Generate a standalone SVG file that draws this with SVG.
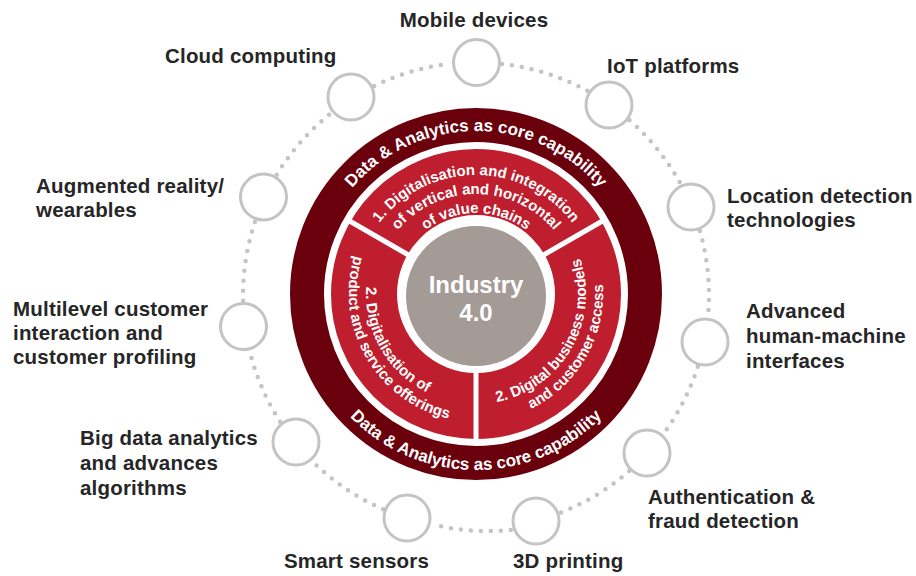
<svg xmlns="http://www.w3.org/2000/svg" width="916" height="576" viewBox="0 0 916 576">
<style>
.lbl{font-family:"Liberation Sans",Arial,sans-serif;font-weight:bold;font-size:20.5px;letter-spacing:0.2px;fill:#262626}
.ring{font-family:"Liberation Sans",Arial,sans-serif;font-weight:bold;font-size:17px;fill:#fff}
.sec{font-family:"Liberation Sans",Arial,sans-serif;font-weight:bold;font-size:15px;fill:#fff}
.ctr{font-family:"Liberation Sans",Arial,sans-serif;font-weight:bold;font-size:24px;fill:#fff}
.node{fill:#fff;stroke:#c4c4c4;stroke-width:3}
.dots{fill:none;stroke:#c4c4c4;stroke-width:4.5;stroke-linecap:round;stroke-dasharray:0 10}
</style>
<defs>
<path id="pTopRing" d="M 313 294 A 163 163 0 0 1 639 294"/>
<path id="pBotRing" d="M 300 294 A 176 176 0 0 0 652 294"/>
<path id="pT1" d="M 355 296 A 121 121 0 0 1 597 296"/>
<path id="pT2" d="M 374 296 A 102 102 0 0 1 578 296"/>
<path id="pT3" d="M 393 296 A 83 83 0 0 1 559 296"/>
<path id="pL1" d="M 421 198.7 A 110 110 0 0 0 531 389.3"/>
<path id="pL2" d="M 411.5 182.3 A 129 129 0 0 0 540.5 405.7"/>
<path id="pR1" d="M 421 389.3 A 110 110 0 0 0 531 198.7"/>
<path id="pR2" d="M 411.5 405.7 A 129 129 0 0 0 540.5 182.3"/>
</defs>
<rect width="916" height="576" fill="#fff"/>

<g id="connectors">
<path class="dots" d="M 502 64 A 233 233 0 0 1 587.5 90.9"/>
<path class="dots" d="M 629.5 120.2 A 233 233 0 0 1 680.4 183.6"/>
<path class="dots" d="M 699.9 230.9 A 233 233 0 0 1 708 316.6"/>
<path class="dots" d="M 697.8 366.7 A 233 233 0 0 1 663.8 433.4"/>
<path class="dots" d="M 629.2 471.1 A 233 233 0 0 1 560.3 512.7"/>
<path class="dots" d="M 510.8 529.9 A 233 233 0 0 1 431.9 524.3"/>
<path class="dots" d="M 383.1 509.2 A 233 233 0 0 1 312.4 461.4"/>
<path class="dots" d="M 280.1 421.7 A 233 233 0 0 1 249.8 351.5"/>
<path class="dots" d="M 243.1 300.8 A 233 233 0 0 1 255.2 221.2"/>
<path class="dots" d="M 276.7 174.8 A 233 233 0 0 1 331 113.2"/>
<path class="dots" d="M 374.2 85.9 A 233 233 0 0 1 450 63.9"/>
</g>

<g id="core">
<circle cx="476" cy="294" r="169" fill="none" stroke="#6b000d" stroke-width="34"/>
<circle cx="476" cy="294" r="112" fill="none" stroke="#be1e2d" stroke-width="66"/>
<g stroke="#fff" stroke-width="5">
<line x1="540.95" y1="256.5" x2="605.9" y2="219"/>
<line x1="476" y1="369" x2="476" y2="444"/>
<line x1="411.05" y1="256.5" x2="346.1" y2="219"/>
</g>
<circle cx="476" cy="296" r="70" fill="#a49a96"/>
<text class="ctr" x="476" y="293" text-anchor="middle">Industry</text>
<text class="ctr" x="476" y="321" text-anchor="middle">4.0</text>
<text class="ring" text-anchor="middle"><textPath href="#pTopRing" startOffset="50%">Data &amp; Analytics as core capability</textPath></text>
<text class="ring" text-anchor="middle"><textPath href="#pBotRing" startOffset="50%">Data &amp; Analytics as core capability</textPath></text>
<text class="sec" text-anchor="middle"><textPath href="#pT1" startOffset="50%">1. Digitalisation and integration</textPath></text>
<text class="sec" text-anchor="middle"><textPath href="#pT2" startOffset="50%">of vertical and horizontal</textPath></text>
<text class="sec" text-anchor="middle"><textPath href="#pT3" startOffset="50%">of value chains</textPath></text>
<text class="sec" text-anchor="middle"><textPath href="#pL1" startOffset="50%">2. Digitalisation of</textPath></text>
<text class="sec" text-anchor="middle"><textPath href="#pL2" startOffset="50%">product and service offerings</textPath></text>
<text class="sec" text-anchor="middle"><textPath href="#pR1" startOffset="50%">2. Digital business models</textPath></text>
<text class="sec" text-anchor="middle"><textPath href="#pR2" startOffset="50%">and customer access</textPath></text>
</g>

<g id="mobile"><circle class="node" cx="476.5" cy="62.5" r="23"/><text class="lbl" x="474" y="27" text-anchor="middle">Mobile devices</text></g>
<g id="iot"><circle class="node" cx="609" cy="105" r="23"/><text class="lbl" x="607" y="72.5">IoT platforms</text></g>
<g id="location"><circle class="node" cx="691" cy="207" r="23"/><text class="lbl" x="727" y="203">Location detection</text><text class="lbl" x="727" y="227">technologies</text></g>
<g id="hmi"><circle class="node" cx="705" cy="342" r="23"/><text class="lbl" x="746" y="318">Advanced</text><text class="lbl" x="746" y="343">human-machine</text><text class="lbl" x="746" y="368">interfaces</text></g>
<g id="auth"><circle class="node" cx="647" cy="453" r="23"/><text class="lbl" x="648" y="504">Authentication &amp;</text><text class="lbl" x="648" y="528">fraud detection</text></g>
<g id="printing"><circle class="node" cx="536" cy="521" r="23"/><text class="lbl" x="513" y="568">3D printing</text></g>
<g id="sensors"><circle class="node" cx="407" cy="518" r="23"/><text class="lbl" x="429" y="568" text-anchor="end">Smart sensors</text></g>
<g id="bigdata"><circle class="node" cx="296" cy="442" r="23"/><text class="lbl" x="80" y="445">Big data analytics</text><text class="lbl" x="80" y="470">and advances</text><text class="lbl" x="80" y="495">algorithms</text></g>
<g id="multilevel"><circle class="node" cx="243.5" cy="326.5" r="23"/><text class="lbl" x="13" y="316">Multilevel customer</text><text class="lbl" x="13" y="340">interaction and</text><text class="lbl" x="13" y="364">customer profiling</text></g>
<g id="augmented"><circle class="node" cx="263.5" cy="197" r="23"/><text class="lbl" x="36" y="193">Augmented reality/</text><text class="lbl" x="36" y="217">wearables</text></g>
<g id="cloud"><circle class="node" cx="351" cy="97" r="23"/><text class="lbl" x="165" y="63">Cloud computing</text></g>
</svg>
